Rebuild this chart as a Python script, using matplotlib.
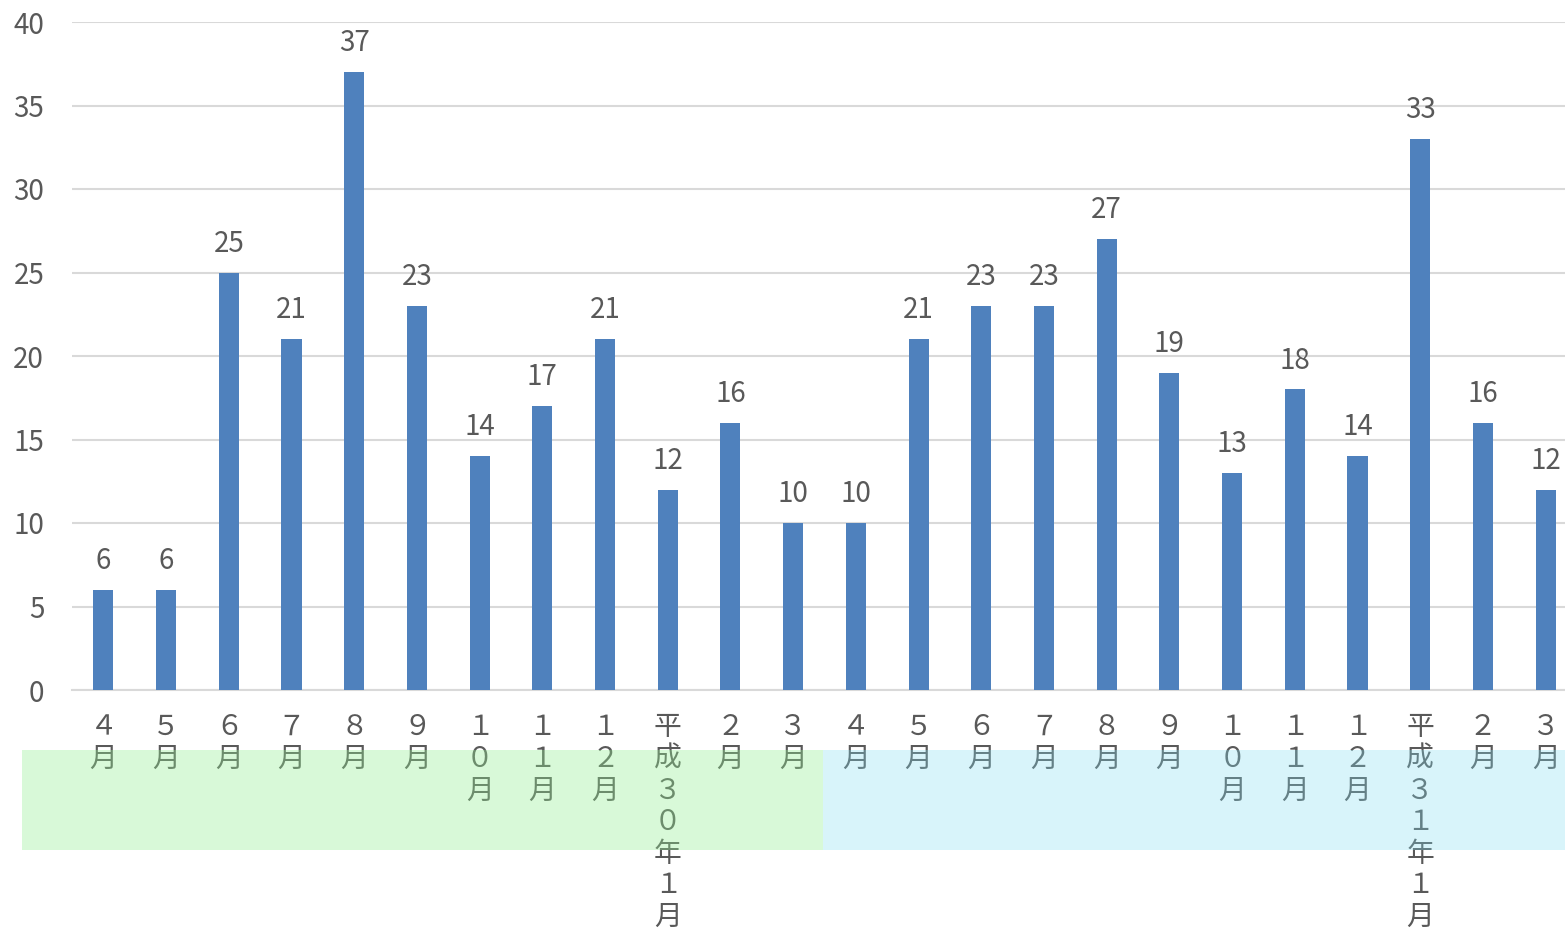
import matplotlib
matplotlib.use('Agg')
import matplotlib.pyplot as plt
from matplotlib.patches import Rectangle

plt.rcParams['font.family'] = ['Noto Sans CJK JP', 'DejaVu Sans']

# monthly counts, April H29 .. March H31
months = ['４月', '５月', '６月', '７月', '８月', '９月', '１０月', '１１月', '１２月',
          '平成３０年１月', '２月', '３月',
          '４月', '５月', '６月', '７月', '８月', '９月', '１０月', '１１月', '１２月',
          '平成３１年１月', '２月', '３月']
counts = [6, 6, 25, 21, 37, 23, 14, 17, 21, 12, 16, 10,
          10, 21, 23, 23, 27, 19, 13, 18, 14, 33, 16, 12]
yticks = [0, 5, 10, 15, 20, 25, 30, 35, 40]

W, H = 1565, 934
fig = plt.figure(figsize=(W / 100, H / 100), dpi=100)
ax = fig.add_axes([72 / W, (H - 690) / H, (1577 - 72) / W, (690 - 22) / H])

x = list(range(len(counts)))
bars = ax.bar(x, counts, width=0.32, color='#4f81bd', zorder=3)
for xi, v in zip(x, counts):
    ax.annotate(str(v), (xi, v), xytext=(0, 10), textcoords='offset points',
                ha='center', va='bottom', fontsize=20, color='#595959')

ax.set_xlim(-0.5, len(counts) - 0.5)
ax.set_ylim(0, 40)
ax.set_yticks(yticks)
ax.set_yticklabels([str(t) for t in yticks], fontsize=20, color='#595959')
ax.yaxis.grid(True, color='#d9d9d9', linewidth=1.5, zorder=0)
ax.set_axisbelow(True)

ax.set_xticks(x)
ax.set_xticklabels(['\n'.join(m) for m in months], fontsize=20, color='#595959',
                   linespacing=1.07, va='top')
ax.tick_params(axis='x', length=0, pad=16)
ax.tick_params(axis='y', length=0, pad=20)

for s in ['top', 'right', 'left']:
    ax.spines[s].set_visible(False)
ax.spines['bottom'].set_color('#d9d9d9')
ax.spines['bottom'].set_linewidth(1.5)

# fiscal year bands over the month labels
fig.patches.append(Rectangle((22 / W, (H - 850) / H), (823 - 22) / W, 100 / H,
                             transform=fig.transFigure, facecolor='#90ee90',
                             alpha=0.35, edgecolor='none', zorder=5))
fig.patches.append(Rectangle((823 / W, (H - 850) / H), (1565 - 823) / W, 100 / H,
                             transform=fig.transFigure, facecolor='#7fdcf0',
                             alpha=0.3, edgecolor='none', zorder=5))

fig.savefig('out.png', dpi=100)
